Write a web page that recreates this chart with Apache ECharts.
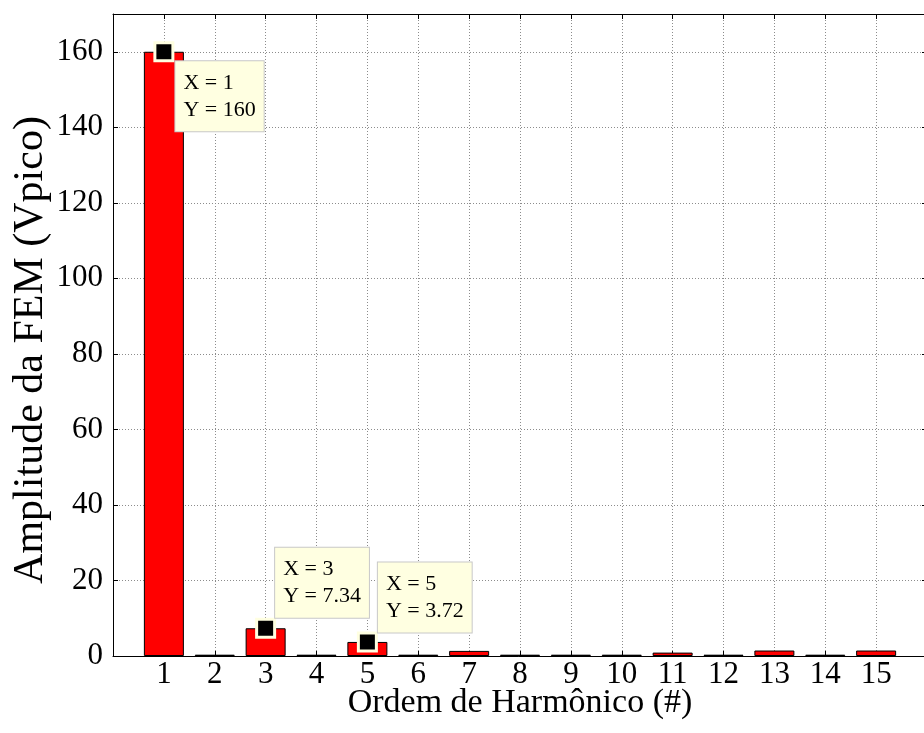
<!DOCTYPE html>
<html>
<head>
<meta charset="utf-8">
<script src="https://cdn.jsdelivr.net/npm/echarts@6/dist/echarts.min.js"></script>
<style>
html,body{margin:0;padding:0;background:#fff;}
#chart{width:924px;height:733px;}
</style>
</head>
<body>
<div id="chart"></div>
<script>
const harmonics = [1,2,3,4,5,6,7,8,9,10,11,12,13,14,15];
const amplitudes = [160, 0.35, 7.34, 0.35, 3.72, 0.35, 1.35, 0.35, 0.35, 0.35, 0.9, 0.35, 1.45, 0.35, 1.45];
const tipHarmonics = [1, 3, 5];
const tipValues = [160, 7.34, 3.72];
const tipLabels = ['X = 1\nY = 160', 'X = 3\nY = 7.34', 'X = 5\nY = 3.72'];
const xTitle = 'Ordem de Harmônico (#)';
const yTitle = 'Amplitude da FEM (Vpico)';

const FONT = '"Liberation Serif", "Times New Roman", serif';
const tipOffsets = [[22, 20], [20, -70], [21, -69]];

const chart = echarts.init(document.getElementById('chart'), null, {renderer: 'canvas'});
const gridStyle = {show: true, lineStyle: {color: '#8c8c8c', type: [1, 2], width: 1}};

const option = {
  animation: false,
  backgroundColor: '#ffffff',
  grid: {left: 113, top: 14, width: 814, height: 642, containLabel: false, outerBoundsMode: 'none'},
  xAxis: [{
    type: 'value', min: 0, max: 16, interval: 1, position: 'bottom',
    name: xTitle, nameLocation: 'middle', nameGap: 30, nameMoveOverlap: false,
    nameTextStyle: {fontFamily: FONT, fontSize: 34, color: '#000', verticalAlign: 'top'},
    axisLine: {show: true, onZero: false, lineStyle: {color: '#000', width: 1}},
    axisTick: {show: true, inside: true, length: 5, lineStyle: {color: '#000'}},
    axisLabel: {fontFamily: FONT, fontSize: 31, color: '#000', margin: 3,
      formatter: v => (v >= 1 && v <= 15) ? String(v) : ''},
    splitLine: gridStyle
  }, {
    type: 'value', min: 0, max: 16, interval: 1, position: 'top',
    axisLine: {show: true, onZero: false, lineStyle: {color: '#000', width: 1}},
    axisTick: {show: true, inside: true, length: 5, lineStyle: {color: '#000'}},
    axisLabel: {show: false}, splitLine: {show: false}
  }],
  yAxis: [{
    type: 'value', min: 0, max: 170, interval: 20, position: 'left',
    name: yTitle, nameLocation: 'middle', nameGap: 61, nameRotate: 90, nameMoveOverlap: false,
    nameTextStyle: {fontFamily: FONT, fontSize: 42, color: '#000', padding: [0, 30, 0, 0]},
    axisLine: {show: true, onZero: false, lineStyle: {color: '#000', width: 1}},
    axisTick: {show: true, inside: true, length: 5, lineStyle: {color: '#000'}},
    axisLabel: {fontFamily: FONT, fontSize: 31, color: '#000', margin: 10,
      formatter: v => (v % 20 === 0) ? String(v) : ''},
    splitLine: gridStyle
  }, {
    type: 'value', min: 0, max: 170, interval: 20, position: 'right',
    axisLine: {show: true, onZero: false, lineStyle: {color: '#000', width: 1}},
    axisTick: {show: true, inside: true, length: 5, lineStyle: {color: '#000'}},
    axisLabel: {show: false}, splitLine: {show: false}
  }],
  series: [{
    type: 'bar',
    xAxisIndex: 0, yAxisIndex: 0,
    barWidth: 40,
    data: harmonics.map((h, i) => [h, amplitudes[i]]),
    itemStyle: {color: '#ff0000', borderColor: '#000', borderWidth: 1},
    z: 2
  }, {
    type: 'scatter',
    xAxisIndex: 0, yAxisIndex: 0,
    symbol: 'rect', symbolSize: 18,
    itemStyle: {color: '#000', borderColor: '#ffffe1', borderWidth: 3, opacity: 1},
    data: tipHarmonics.map((h, i) => ({
      value: [h, tipValues[i]],
      label: {
        show: true,
        formatter: tipLabels[i],
        position: tipOffsets[i],
        align: 'left', verticalAlign: 'top',
        fontFamily: FONT, fontSize: 22, lineHeight: 27, color: '#000',
        backgroundColor: '#ffffe1', borderColor: '#c8c8c8', borderWidth: 1,
        padding: [8, 8, 8, 8]
      }
    })),
    z: 5
  }]
};
chart.setOption(option);
</script>
</body>
</html>
